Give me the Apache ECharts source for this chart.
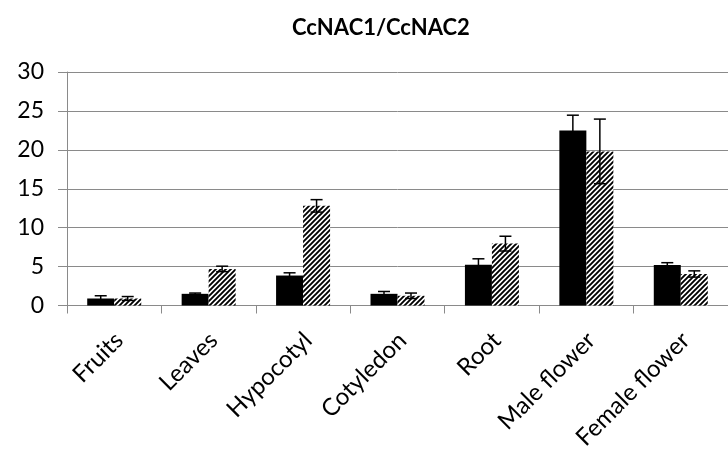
<!DOCTYPE html>
<html>
<head>
<meta charset="utf-8">
<script src="https://cdn.jsdelivr.net/npm/echarts@6/dist/echarts.min.js"></script>
<style>
  html, body { margin: 0; padding: 0; background: #fff; }
  #chart { width: 728px; height: 454px; }
</style>
</head>
<body>
<div id="chart"></div>
<script>
const titleText = 'CcNAC1/CcNAC2';
const categories = ['Fruits', 'Leaves', 'Hypocotyl', 'Cotyledon', 'Root', 'Male flower', 'Female flower'];
const ccnac1 = [0.9, 1.5, 3.85, 1.5, 5.25, 22.5, 5.2];
const ccnac1Err = [0.35, 0.1, 0.35, 0.3, 0.75, 1.95, 0.3];
const ccnac2 = [0.9, 4.7, 12.8, 1.25, 7.95, 19.8, 4.05];
const ccnac2Err = [0.25, 0.35, 0.8, 0.35, 0.95, 4.15, 0.4];
const yMin = 0, yMax = 30, yStep = 5;

function makeHatch() {
  const s = 5;
  const c = document.createElement('canvas');
  c.width = s; c.height = s;
  const ctx = c.getContext('2d');
  ctx.fillStyle = '#fff';
  ctx.fillRect(0, 0, s, s);
  ctx.strokeStyle = '#000';
  ctx.lineWidth = 1.9;
  ctx.beginPath();
  ctx.moveTo(-1, s + 1); ctx.lineTo(s + 1, -1);
  ctx.moveTo(-1, 1); ctx.lineTo(1, -1);
  ctx.moveTo(s - 1, s + 1); ctx.lineTo(s + 1, s - 1);
  ctx.stroke();
  return c;
}

const BAR_W = 27;
const CAP = 6;
function errRenderer(dir) {
  return function (params, api) {
    const i = api.value(0), v = api.value(1), e = api.value(2);
    const hi = api.coord([i, v + e]);
    const lo = api.coord([i, v - e]);
    const x = hi[0] + dir * BAR_W / 2;
    const st = { stroke: '#000', lineWidth: 1.5 };
    return {
      type: 'group',
      children: [
        { type: 'line', shape: { x1: x, y1: hi[1], x2: x, y2: lo[1] }, style: st },
        { type: 'line', shape: { x1: x - CAP, y1: hi[1], x2: x + CAP, y2: hi[1] }, style: st },
        { type: 'line', shape: { x1: x - CAP, y1: lo[1], x2: x + CAP, y2: lo[1] }, style: st }
      ]
    };
  };
}

const gray = '#8a8a8a';
const chart = echarts.init(document.getElementById('chart'));
chart.setOption({
  animation: false,
  backgroundColor: '#fff',
  title: {
    text: titleText,
    left: 287, top: 12,
    textStyle: { fontFamily: 'Lato', fontWeight: 'bold', fontSize: 22, color: '#000' }
  },
  grid: { left: 67, top: 72, width: 669, height: 233.5 },
  xAxis: {
    type: 'category',
    data: categories,
    axisLine: { lineStyle: { color: gray, width: 1 } },
    axisTick: { show: true, length: 8, interval: 0, lineStyle: { color: gray } },
    axisLabel: {
      interval: 0, rotate: 45, margin: 26, fontFamily: 'Lato', fontSize: 24, color: '#000',
      verticalAlign: 'top', padding: [-5, 0, 0, 0]
    }
  },
  yAxis: {
    type: 'value', min: yMin, max: yMax, interval: yStep,
    axisLine: { show: true, lineStyle: { color: gray, width: 1 } },
    axisTick: { show: true, length: 9, lineStyle: { color: gray } },
    splitLine: { lineStyle: { color: gray, width: 1 } },
    axisLabel: { margin: 23, fontFamily: 'Lato', fontSize: 23, color: '#000' }
  },
  series: [
    { name: 'CcNAC1', type: 'bar', data: ccnac1, barWidth: BAR_W, barGap: '0%', itemStyle: { color: '#000' } },
    { name: 'CcNAC2', type: 'bar', data: ccnac2, barWidth: BAR_W, barGap: '0%',
      itemStyle: { color: { image: makeHatch(), repeat: 'repeat' } } },
    { name: 'CcNAC1 error', type: 'custom', z: 5,
      data: categories.map((c, i) => [i, ccnac1[i], ccnac1Err[i]]),
      renderItem: errRenderer(-1) },
    { name: 'CcNAC2 error', type: 'custom', z: 5,
      data: categories.map((c, i) => [i, ccnac2[i], ccnac2Err[i]]),
      renderItem: errRenderer(1) }
  ]
});
</script>
</body>
</html>
